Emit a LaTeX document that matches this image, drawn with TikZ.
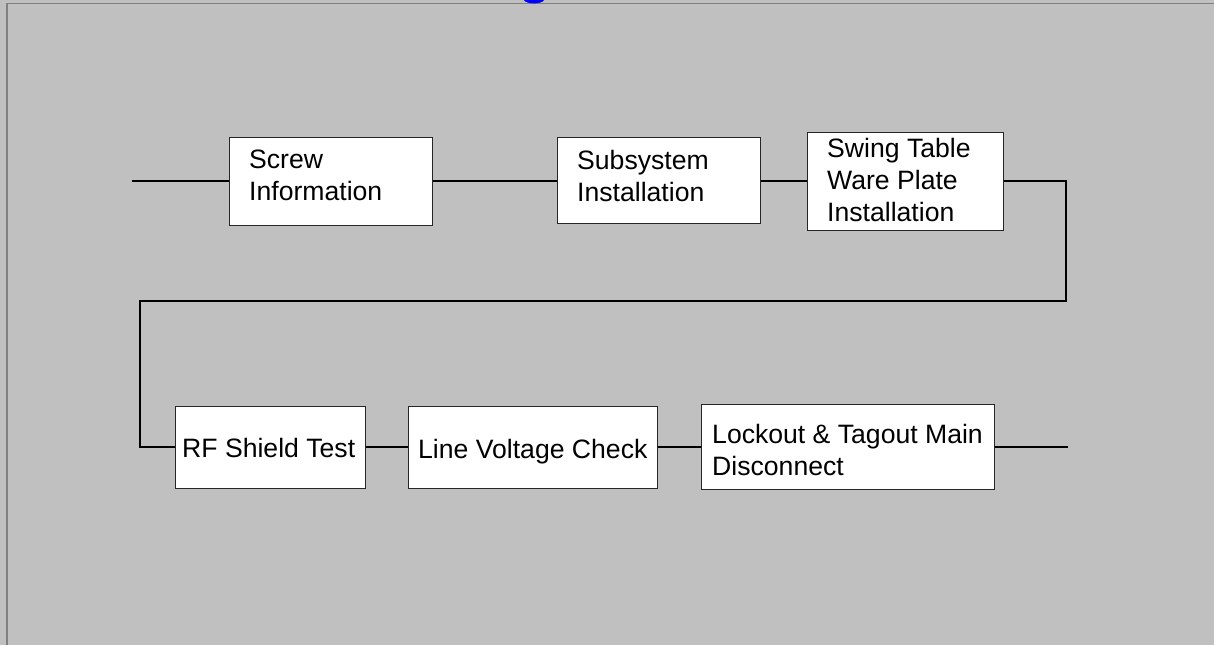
\documentclass[tikz,border=0pt]{standalone}
\usepackage{fontspec}
\setmainfont{Liberation Sans}
\definecolor{panel}{HTML}{C0C0C0}
\definecolor{frame}{HTML}{808080}
\newcommand\boxtext[1]{\begin{tabular}[t]{@{}l@{}}#1\end{tabular}}
\begin{document}
\begin{tikzpicture}[x=1pt,y=-1pt,
  stepbox/.style={draw=black!85, line width=1.1pt, fill=white, inner sep=0pt,
                  anchor=north west},
  lbl/.style={anchor=base west, inner sep=0pt, font=\fontsize{26.6}{32}\selectfont},
  wire/.style={line width=2pt, black}]
  % panel and its frame
  \fill[panel] (0,0) rectangle (1214,645);
  \useasboundingbox (0,0) rectangle (1214,645);
  \draw[frame, line width=1.6pt] (6.7,645) -- (6.7,3.5) -- (1214,3.5);
  % clipped title glyph at the top edge
  \fill[blue] (524,0) .. controls (526,4.5) and (542,4.5) .. (544,0) -- cycle;

  % process boxes
  \node[stepbox, minimum width=203, minimum height=88] (b1) at (229,137) {};
  \node[stepbox, minimum width=203, minimum height=86] (b2) at (557,137) {};
  \node[stepbox, minimum width=196, minimum height=98] (b3) at (807,132) {};
  \node[stepbox, minimum width=190, minimum height=82] (b4) at (175,406) {};
  \node[stepbox, minimum width=249, minimum height=82] (b5) at (408,406) {};
  \node[stepbox, minimum width=293, minimum height=85] (b6) at (701,404) {};

  % box texts
  \node[lbl] (t1) at (249,168) {\boxtext{Screw\\Information}};
  \node[lbl] (t2) at (577,169) {\boxtext{Subsystem\\Installation}};
  \node[lbl] (t3) at (827,157) {\boxtext{Swing Table\\Ware Plate\\Installation}};
  \node[lbl] (t4) at (182,457) {RF Shield Test};
  \node[lbl] (t5) at (418,458) {Line Voltage Check};
  \node[lbl] (t6) at (712,443) {\boxtext{Lockout \& Tagout Main\\Disconnect}};

  % wiring
  \coordinate (in)  at (132,181);
  \coordinate (k1)  at (1066,181);
  \coordinate (k2)  at (1066,301);
  \coordinate (k3)  at (140,301);
  \coordinate (k4)  at (140,447);
  \coordinate (out) at (1068,447);
  \draw[wire] (in) -- (b1.west |- in);
  \draw[wire] (b1.east |- in) -- (b2.west |- in);
  \draw[wire] (b2.east |- in) -- (b3.west |- in);
  \draw[wire] (b3.east |- in) -- (k1) -- (k2) -- (k3) -- (k4) -- (b4.west |- k4);
  \draw[wire] (b4.east |- k4) -- (b5.west |- k4);
  \draw[wire] (b5.east |- k4) -- (b6.west |- k4);
  \draw[wire] (b6.east |- k4) -- (out);
\end{tikzpicture}
\end{document}
